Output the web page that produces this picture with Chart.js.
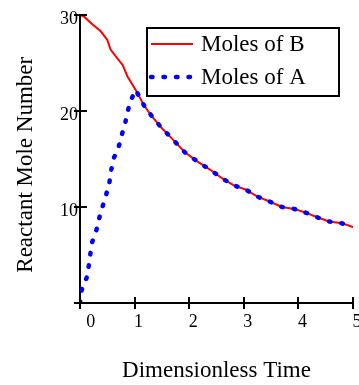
<!DOCTYPE html>
<html>
<head>
    <meta charset="UTF-8">
    <title>Reactant Mole Number</title>
    <script src="https://cdn.jsdelivr.net/npm/chart.js"></script>
    <style>
        html, body { margin: 0; padding: 0; background: #fff; }
    </style>
</head>
<body>
    <canvas id="moleChart" width="359" height="385"></canvas>

    <script>
        // Moles of B (red solid curve)
        const timeB = [0, 0.08, 0.23, 0.38, 0.5, 0.56, 0.68, 0.78, 0.87, 1.02, 1.17, 1.31, 1.5, 1.69,
            1.92, 2.16, 2.38, 2.6, 2.8, 3.04, 3.24, 3.46, 3.7, 3.92, 4.14, 4.36, 4.56, 4.8, 5.0];
        const molesB = [30, 29.8, 29.0, 28.3, 27.4, 26.4, 25.5, 24.8, 23.6, 22.2, 20.6, 19.5, 18.2, 17.1,
            15.7, 14.7, 13.9, 13.0, 12.3, 11.8, 11.1, 10.6, 10.0, 9.8, 9.4, 8.9, 8.5, 8.3, 7.9];

        // Moles of A (blue dotted curve)
        const timeA = [0, 0.03, 0.12, 0.16, 0.19, 0.22, 0.3, 0.35, 0.41, 0.48, 0.54, 0.57, 0.62, 0.71,
            0.77, 0.83, 0.88, 0.93, 1.02, 1.17, 1.31, 1.5, 1.69, 1.92, 2.16, 2.38, 2.6, 2.8, 3.04, 3.24,
            3.46, 3.7, 3.92, 4.14, 4.36, 4.56, 4.8, 5.0];
        const molesA = [0, 1.35, 2.6, 3.9, 5.1, 6.3, 7.6, 8.8, 10.0, 11.3, 12.6, 13.8, 15.1, 16.3,
            17.6, 18.8, 20.1, 21.1, 22.2, 20.6, 19.5, 18.2, 17.1, 15.7, 14.7, 13.9, 13.0, 12.3, 11.8, 11.1,
            10.6, 10.0, 9.8, 9.4, 8.9, 8.5, 8.3, 7.9];

        const xTicks = [0, 1, 2, 3, 4, 5];
        const yTicks = [0, 10, 20, 30];

        const toPoints = (xs, ys) => xs.map((x, i) => ({ x: x, y: ys[i] }));

        Chart.defaults.font.family = '"Liberation Serif", "Times New Roman", serif';
        Chart.defaults.color = '#000';

        // tick marks that cross the axis line on both sides
        const crossTicks = {
            id: 'crossTicks',
            afterDraw(chart) {
                const ctx = chart.ctx;
                const area = chart.chartArea;
                ctx.save();
                ctx.strokeStyle = '#000';
                ctx.lineWidth = 2;
                ctx.beginPath();
                chart.scales.x.ticks.forEach((t, i) => {
                    const px = Math.round(chart.scales.x.getPixelForTick(i));
                    ctx.moveTo(px, area.bottom - 6);
                    ctx.lineTo(px, area.bottom + 6);
                });
                chart.scales.y.ticks.forEach((t, i) => {
                    const py = Math.round(chart.scales.y.getPixelForTick(i));
                    ctx.moveTo(area.left - 6, py);
                    ctx.lineTo(area.left + 7, py);
                });
                ctx.stroke();
                ctx.restore();
            }
        };

        // boxed legend inside the plot
        const boxLegend = {
            id: 'boxLegend',
            afterDraw(chart) {
                const ctx = chart.ctx;
                const x0 = 147, y0 = 28, w = 192, h = 68;
                ctx.save();
                ctx.fillStyle = '#fff';
                ctx.fillRect(x0, y0, w, h);
                ctx.strokeStyle = '#000';
                ctx.lineWidth = 2;
                ctx.strokeRect(x0, y0, w, h);
                chart.data.datasets.forEach((ds, i) => {
                    const y = y0 + 16 + i * 33;
                    ctx.beginPath();
                    ctx.strokeStyle = ds.borderColor;
                    ctx.lineWidth = ds.borderWidth;
                    ctx.lineCap = ds.borderCapStyle || 'butt';
                    ctx.setLineDash(ds.borderDash || []);
                    ctx.moveTo(x0 + 4, y);
                    ctx.lineTo(x0 + 46, y);
                    ctx.stroke();
                    ctx.setLineDash([]);
                    ctx.fillStyle = '#000';
                    ctx.font = '23px "Liberation Serif"';
                    ctx.textBaseline = 'middle';
                    ctx.fillText(ds.label, x0 + 54, y + 1);
                });
                ctx.restore();
            }
        };

        const ctx = document.getElementById('moleChart').getContext('2d');
        new Chart(ctx, {
            type: 'line',
            data: {
                datasets: [
                    {
                        label: 'Moles of B',
                        data: toPoints(timeB, molesB),
                        borderColor: '#ff0000',
                        borderWidth: 2,
                        pointRadius: 0,
                        tension: 0,
                        order: 1
                    },
                    {
                        label: 'Moles of A',
                        data: toPoints(timeA, molesA),
                        borderColor: '#0000ff',
                        borderWidth: 4.5,
                        borderDash: [1.5, 11],
                        borderCapStyle: 'round',
                        pointRadius: 0,
                        tension: 0,
                        order: 0
                    }
                ]
            },
            options: {
                responsive: false,
                animation: false,
                layout: { padding: { left: 12, right: 6, top: 15, bottom: 0 } },
                plugins: {
                    legend: { display: false },
                    tooltip: { enabled: false }
                },
                scales: {
                    x: {
                        type: 'linear',
                        min: 0,
                        max: 5,
                        afterBuildTicks: (scale) => { scale.ticks = xTicks.map(v => ({ value: v })); },
                        afterFit: (scale) => {
                            scale.height = 82;
                            scale.paddingLeft = 0;
                            scale.paddingRight = 0;
                        },
                        border: { color: '#000', width: 2 },
                        grid: { drawOnChartArea: false, drawTicks: false },
                        ticks: {
                            font: { size: 18 },
                            padding: 8,
                            labelOffset: 4,
                            maxRotation: 0,
                            callback: (v) => v === 0 ? '\u00a0\u00a0\u00a00' : String(v)
                        },
                        title: {
                            display: true,
                            text: 'Dimensionless Time',
                            font: { size: 23 },
                            padding: 0
                        }
                    },
                    y: {
                        min: 0,
                        max: 30,
                        afterBuildTicks: (scale) => { scale.ticks = yTicks.map(v => ({ value: v })); },
                        afterFit: (scale) => { scale.width = 68; },
                        border: { color: '#000', width: 2 },
                        grid: { drawOnChartArea: false, drawTicks: false },
                        ticks: {
                            font: { size: 18 },
                            padding: 2,
                            labelOffset: 4,
                            callback: (v) => v === 0 ? '' : String(v)
                        },
                        title: {
                            display: true,
                            text: 'Reactant Mole Number\u00a0\u00a0',
                            font: { size: 23 },
                            padding: 0
                        }
                    }
                }
            },
            plugins: [crossTicks, boxLegend]
        });
    </script>
</body>
</html>
